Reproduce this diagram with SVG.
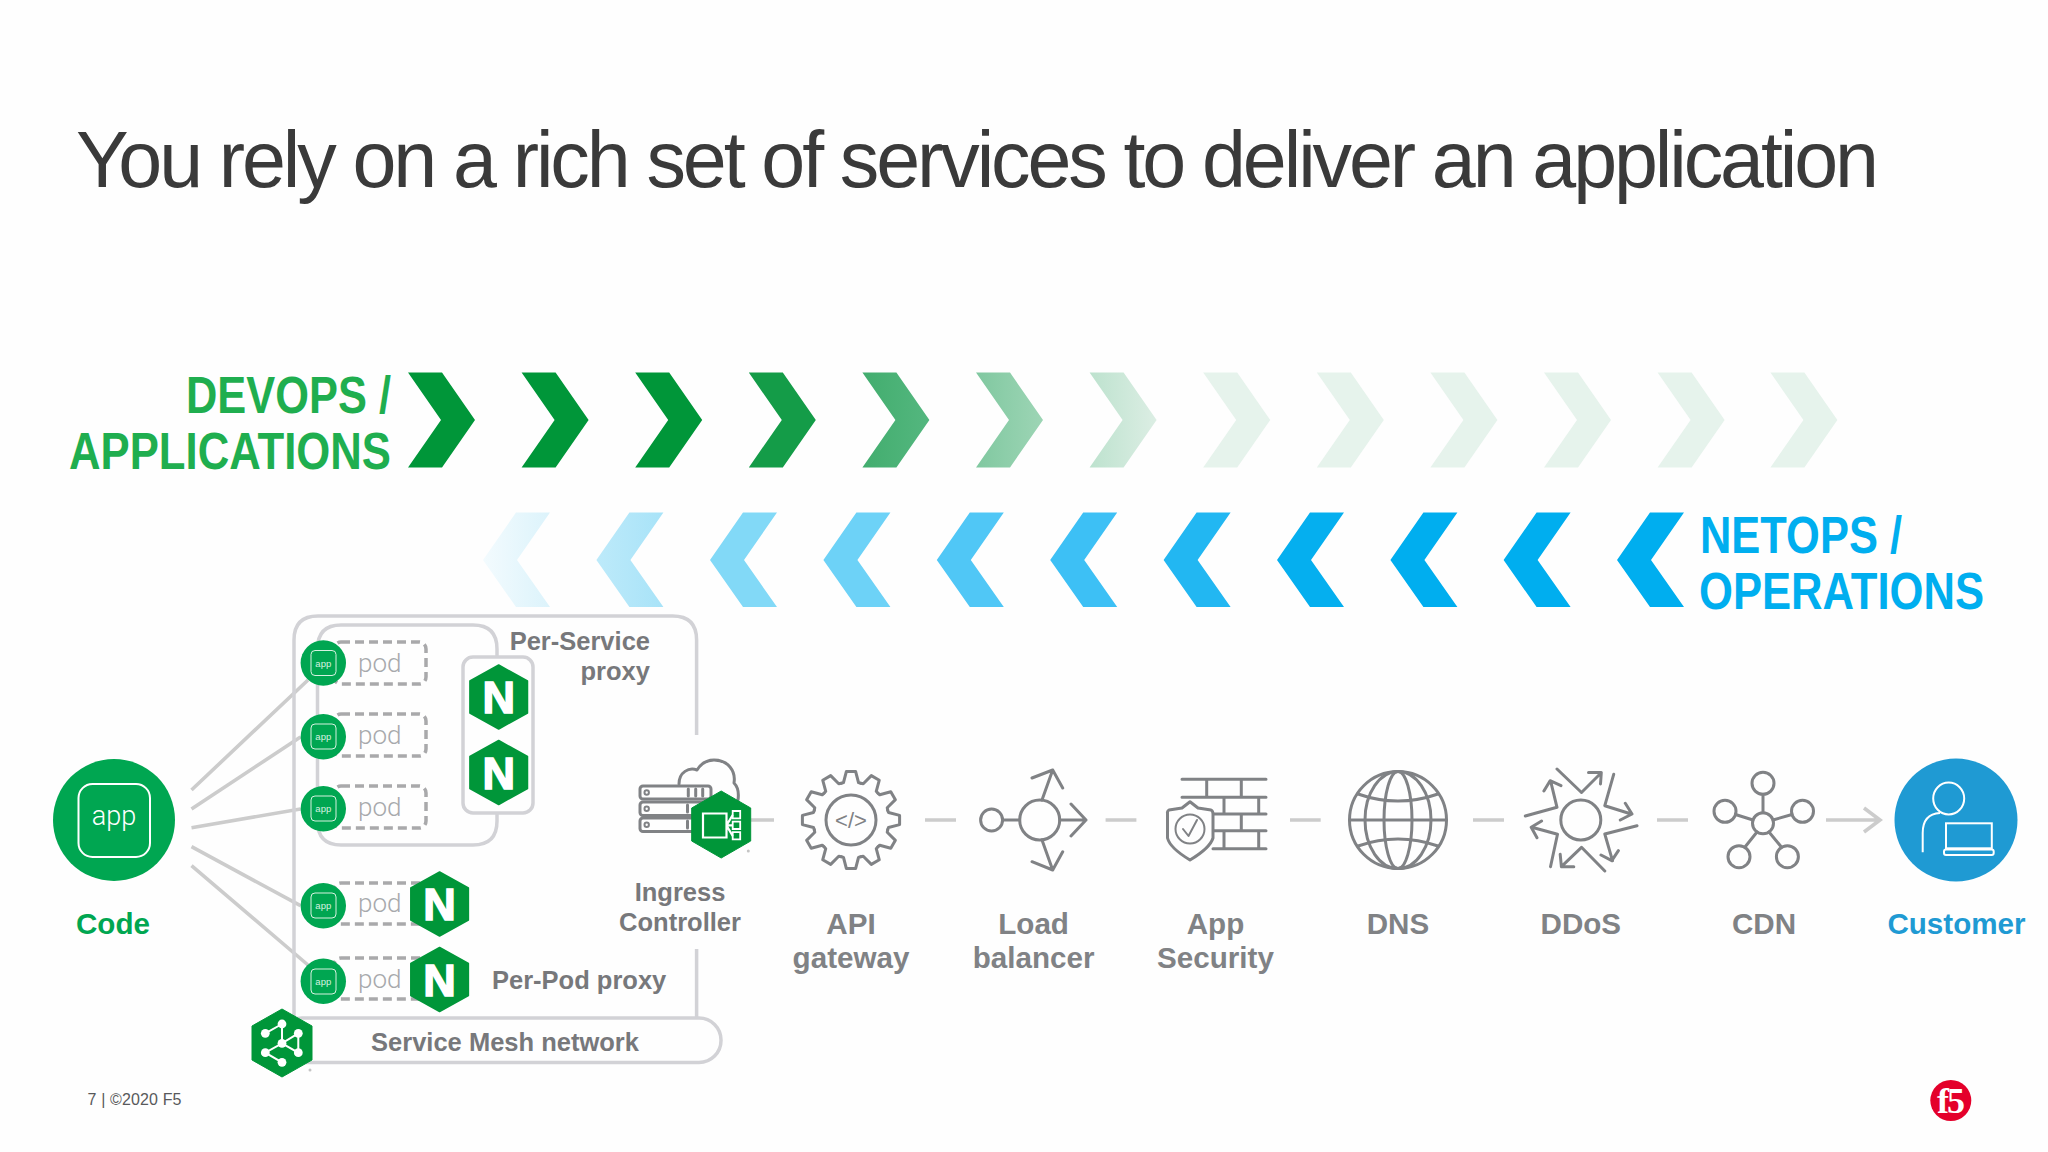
<svg xmlns="http://www.w3.org/2000/svg" width="2048" height="1152" viewBox="0 0 2048 1152">
<style>
text{font-family:"Liberation Sans",Arial,sans-serif}
.lbl{font-size:29.6px;font-weight:700;fill:#808285;text-anchor:middle}
.sm{font-size:25.5px;font-weight:700;fill:#77787b}
.ic{fill:none;stroke:#808285;stroke-width:3;stroke-linecap:round;stroke-linejoin:round}
.box{fill:none;stroke:#d2d2d6;stroke-width:3.5}
.dash{fill:none;stroke:#a9a9ab;stroke-width:3.5;stroke-dasharray:9 5}
.pod{font-family:Roboto,"Liberation Sans",sans-serif;font-weight:300;font-size:26px;fill:#a7a9ac}
.wl{fill:none;stroke:#fff;stroke-width:2}
.conn{fill:none;stroke:#cccccc;stroke-width:3.6}
.nl{font-size:45px;font-weight:700;fill:#fff;stroke:#fff;stroke-width:1.6;text-anchor:middle}
.apps{font-size:9.5px;fill:#d6f1e0;text-anchor:middle}
</style>
<defs>
<polygon id="cr" points="0,0 34,0 67,47.5 34,95 0,95 33,47.5"/>
<polygon id="cl" points="0,47.5 33,0 67,0 34,47.5 67,94.5 33,94.5"/>
<polygon id="hex" points="0,-32 28.8,-16 28.8,16 0,32 -28.8,16 -28.8,-16" fill="#009639" stroke="#009639" stroke-width="1.5" stroke-linejoin="round"/>
<polyline id="tooth" points="-9.8,-36.7 -7.5,-37.5 -4.6,-48.6 4.6,-48.6 7.5,-37.5 9.8,-36.7"/>
<linearGradient id="g5"><stop offset="0" stop-color="#42ad6e"/><stop offset="1" stop-color="#54b77f"/></linearGradient>
<linearGradient id="g6"><stop offset="0" stop-color="#80c8a0"/><stop offset="1" stop-color="#9dd5b5"/></linearGradient>
<linearGradient id="g7"><stop offset="0" stop-color="#bde2ce"/><stop offset="1" stop-color="#dceee4"/></linearGradient>
<linearGradient id="b1"><stop offset="0" stop-color="#f3fbfe"/><stop offset="1" stop-color="#dcf3fb"/></linearGradient>
<linearGradient id="b2"><stop offset="0" stop-color="#bdeafa"/><stop offset="1" stop-color="#a8e3f8"/></linearGradient>
</defs>
<rect width="2048" height="1152" fill="#fefefe"/>
<text x="76" y="187" font-size="79" fill="#3a3a3a" textLength="1803" lengthAdjust="spacing">You rely on a rich set of services to deliver an application</text>

<g id="devops-label" font-size="51" font-weight="700" fill="#1fae4f">
<text x="186" y="413" textLength="205" lengthAdjust="spacingAndGlyphs">DEVOPS /</text>
<text x="69" y="469" textLength="322" lengthAdjust="spacingAndGlyphs">APPLICATIONS</text>
</g>
<g id="devops-chevrons" transform="translate(0,372.5)">
<use href="#cr" x="408" fill="#009639"/>
<use href="#cr" x="521.6" fill="#009639"/>
<use href="#cr" x="635.2" fill="#009639"/>
<use href="#cr" x="748.8" fill="#149c48"/>
<use href="#cr" x="862.4" fill="url(#g5)"/>
<use href="#cr" x="976" fill="url(#g6)"/>
<use href="#cr" x="1089.6" fill="url(#g7)"/>
<use href="#cr" x="1203.2" fill="#e6f3ec"/>
<use href="#cr" x="1316.8" fill="#e6f3ec"/>
<use href="#cr" x="1430.4" fill="#e6f3ec"/>
<use href="#cr" x="1544" fill="#e6f3ec"/>
<use href="#cr" x="1657.6" fill="#e6f3ec"/>
<use href="#cr" x="1770.4" fill="#e6f3ec"/>
</g>
<g id="netops-chevrons" transform="translate(0,512.5)">
<use href="#cl" x="483" fill="url(#b1)"/>
<use href="#cl" x="596.4" fill="url(#b2)"/>
<use href="#cl" x="710" fill="#82d9f7"/>
<use href="#cl" x="823.4" fill="#6dd2f7"/>
<use href="#cl" x="936.8" fill="#50c7f6"/>
<use href="#cl" x="1050.2" fill="#3dc0f5"/>
<use href="#cl" x="1163.6" fill="#22b7f2"/>
<use href="#cl" x="1277" fill="#05afef"/>
<use href="#cl" x="1390.4" fill="#00aeef"/>
<use href="#cl" x="1503.6" fill="#00aeef"/>
<use href="#cl" x="1617" fill="#00aeef"/>
</g>
<g id="netops-label" font-size="51" font-weight="700" fill="#00aeef">
<text x="1700" y="553" textLength="202" lengthAdjust="spacingAndGlyphs">NETOPS /</text>
<text x="1699" y="609" textLength="285" lengthAdjust="spacingAndGlyphs">OPERATIONS</text>
</g>

<g id="connectors">
<path class="conn" d="M191.5 790L308 680M191.5 809L300.5 737M191.5 827.7L300.5 809M191.5 846.7L300.5 905.7M191.5 865.7L308 965"/>
<path class="conn" d="M751 820H774M925 820H956M1105.6 820H1136.4M1290 820H1320.7M1473 820H1504M1657 820H1688M1826 820H1880M1864 808L1880 820L1864 832"/>
</g>

<g id="frames">
<path class="box" d="M696.6 735V640Q696.6 616 672.6 616H318Q294 616 294 640V1017M696.6 949V1017"/>
<path class="box" d="M497 657V649Q497 625 473 625H341Q317.5 625 317.5 649V821Q317.5 845 341 845H473Q497 845 497 821V813"/>
<rect class="box" x="463" y="657" width="70" height="156" rx="10"/>
<rect class="box" x="280" y="1018" width="441" height="44.5" rx="22"/>
</g>

<g id="code">
<circle cx="114" cy="820" r="61" fill="#00a651"/>
<rect class="wl" x="78.5" y="784" width="71.5" height="73" rx="14"/>
<text x="114" y="825" font-size="27" fill="#fff" text-anchor="middle" style="font-family:Roboto,'Liberation Sans',sans-serif;font-weight:300">app</text>
<text class="lbl" x="113" y="934" style="fill:#00a651">Code</text>
</g>

<g id="pod1"><rect class="dash" x="334" y="642" width="92" height="42" rx="7"/><circle cx="323.3" cy="663" r="22.7" fill="#00a651"/><rect x="311" y="650.5" width="25" height="25" rx="4" fill="none" stroke="#d6f1e0"/><text class="apps" x="323.3" y="666.5">app</text><text class="pod" x="358" y="671.5">pod</text></g>
<g id="pod2"><rect class="dash" x="334" y="714" width="92" height="42" rx="7"/><circle cx="323.3" cy="736.7" r="22.7" fill="#00a651"/><rect x="311" y="724" width="25" height="25" rx="4" fill="none" stroke="#d6f1e0"/><text class="apps" x="323.3" y="740">app</text><text class="pod" x="358" y="743.5">pod</text></g>
<g id="pod3"><rect class="dash" x="334" y="786" width="92" height="42" rx="7"/><circle cx="323.3" cy="808.7" r="22.7" fill="#00a651"/><rect x="311" y="796" width="25" height="25" rx="4" fill="none" stroke="#d6f1e0"/><text class="apps" x="323.3" y="812">app</text><text class="pod" x="358" y="815.5">pod</text></g>
<g id="pod4"><rect class="dash" x="334" y="883" width="92" height="41" rx="7"/><circle cx="323.3" cy="905.7" r="22.7" fill="#00a651"/><rect x="311" y="893" width="25" height="25" rx="4" fill="none" stroke="#d6f1e0"/><text class="apps" x="323.3" y="909">app</text><text class="pod" x="358" y="912">pod</text></g>
<g id="pod5"><rect class="dash" x="334" y="958" width="92" height="41" rx="7"/><circle cx="323.3" cy="981.3" r="22.7" fill="#00a651"/><rect x="311" y="969" width="25" height="25" rx="4" fill="none" stroke="#d6f1e0"/><text class="apps" x="323.3" y="984.5">app</text><text class="pod" x="358" y="988">pod</text></g>

<g id="proxy-1"><use href="#hex" x="498.7" y="697"/><text class="nl" x="498.7" y="713">N</text></g>
<g id="proxy-2"><use href="#hex" x="498.7" y="772.5"/><text class="nl" x="498.7" y="788.5">N</text></g>
<g id="proxy-3"><use href="#hex" x="439.6" y="904"/><text class="nl" x="439.6" y="920">N</text></g>
<g id="proxy-4"><use href="#hex" x="439.6" y="979.5"/><text class="nl" x="439.6" y="995.5">N</text></g>

<g id="per-service-label"><text class="sm" x="650" y="650" text-anchor="end">Per-Service</text><text class="sm" x="650" y="680" text-anchor="end">proxy</text></g>
<text id="per-pod-label" class="sm" x="492" y="989">Per-Pod proxy</text>

<g id="service-mesh">
<text class="sm" x="505" y="1051" text-anchor="middle">Service Mesh network</text>
<polygon points="282,1009 312,1026 312,1060 282,1077 252,1060 252,1026" fill="#009639" stroke="#009639" stroke-linejoin="round"/>
<path d="M282 1024L265.3 1033.3M282 1024V1043.3L298.3 1033.3V1052.7L282 1043.3L265.3 1052.7L282 1062.3" fill="none" stroke="#fff" stroke-width="2"/>
<g fill="#fff"><circle cx="282" cy="1024" r="4.4"/><circle cx="265.3" cy="1033.3" r="4.4"/><circle cx="298.3" cy="1033.3" r="4.4"/><circle cx="282" cy="1043.3" r="4.4"/><circle cx="265.3" cy="1052.7" r="4.4"/><circle cx="298.3" cy="1052.7" r="4.4"/><circle cx="282" cy="1062.3" r="4.4"/></g>
<circle cx="310" cy="1070" r="1.5" fill="#c4c4c4"/>
</g>

<g id="ingress">
<path class="ic" d="M679 784C679 772 689 767 697 770C702 762 708 760 714 760C728 760 736 771 734 783C738 787 739 793 738 800"/>
<g class="ic">
<rect x="640" y="786" width="71" height="13" rx="3" fill="#fefefe"/><rect x="640" y="802" width="71" height="13.5" rx="3" fill="#fefefe"/><rect x="640" y="818" width="71" height="13.5" rx="3" fill="#fefefe"/>
<circle cx="646.7" cy="792.5" r="2.2" style="stroke-width:2"/><circle cx="646.7" cy="808.7" r="2.2" style="stroke-width:2"/><circle cx="646.7" cy="824.7" r="2.2" style="stroke-width:2"/>
<path d="M688.3 789V796M695.7 789V796M702.7 789V796M687.5 805V812M687.5 821V828"/>
</g>
<polygon points="721.2,791 750.7,808 750.7,841 721.2,858 691.7,841 691.7,808" fill="#009639" stroke="#009639" stroke-linejoin="round"/>
<path d="M703 813.5H726.5V837.5H703ZM726.5 825.4H732.7M726.5 825.4L732.7 815M726.5 825.4L732.7 836" fill="none" stroke="#fff" stroke-width="2.2"/>
<path d="M732.7 811h7.5v7.3h-7.5zM732.7 821.7h7.5v7.3h-7.5zM732.7 832.2h7.5v7.2h-7.5z" fill="none" stroke="#fff" stroke-width="1.8"/>
<circle cx="748.3" cy="851" r="1.5" fill="#c4c4c4"/>
<text class="sm" x="680" y="900.5" text-anchor="middle">Ingress</text>
<text class="sm" x="680" y="930.5" text-anchor="middle">Controller</text>
</g>

<g id="api-gateway">
<g class="ic" transform="translate(851,820)">
<use href="#tooth"/><use href="#tooth" transform="rotate(30)"/><use href="#tooth" transform="rotate(60)"/><use href="#tooth" transform="rotate(90)"/><use href="#tooth" transform="rotate(120)"/><use href="#tooth" transform="rotate(150)"/><use href="#tooth" transform="rotate(180)"/><use href="#tooth" transform="rotate(210)"/><use href="#tooth" transform="rotate(240)"/><use href="#tooth" transform="rotate(270)"/><use href="#tooth" transform="rotate(300)"/><use href="#tooth" transform="rotate(330)"/>
<circle r="25"/>
</g>
<text x="851" y="828" font-size="22" fill="#808285" text-anchor="middle">&lt;/&gt;</text>
<text class="lbl" x="851" y="934">API</text><text class="lbl" x="851" y="968">gateway</text>
</g>

<g id="load-balancer">
<g class="ic"><circle cx="991.6" cy="820" r="11"/><circle cx="1039.7" cy="820" r="20"/>
<path d="M1002.6 820H1019.7M1059.7 820H1086M1071 804L1086 820L1071 836M1042 800L1052.7 770M1032 778L1052.7 770L1062.7 788M1042 840L1052.7 870M1032 861.7L1052.7 870L1062.7 851.7"/></g>
<text class="lbl" x="1033.6" y="934">Load</text><text class="lbl" x="1033.6" y="968">balancer</text>
</g>

<g id="app-security">
<g class="ic">
<path d="M1182 779.3H1266M1182 797.3H1266M1213 814H1266M1213 830.7H1266M1213 848.7H1266M1206.7 779.3V797.3M1241.3 779.3V797.3M1224 797.3V814M1258.7 797.3V814M1241.3 814V830.7M1224 830.7V848.7M1258.7 830.7V848.7"/>
<path d="M1190 801.7L1198 808L1211 810Q1213 811 1213 814V838Q1210 848 1190 860Q1170 848 1167.5 838V814Q1167 811 1169 810L1182 808Z" fill="#fefefe"/>
<circle cx="1190" cy="829" r="14.5" style="stroke-width:2"/>
<path d="M1183 829L1188.5 836L1197 820" style="stroke-width:2"/>
</g>
<text class="lbl" x="1215.5" y="934">App</text><text class="lbl" x="1215.5" y="968">Security</text>
</g>

<g id="dns">
<g class="ic"><circle cx="1398" cy="820" r="48.5"/><ellipse cx="1398" cy="820" rx="14" ry="48.5"/><ellipse cx="1398" cy="820" rx="33" ry="48.5"/>
<path d="M1349.5 820H1446.5M1358 794Q1398 808 1438 794M1358 846Q1398 832 1438 846"/></g>
<text class="lbl" x="1398" y="934">DNS</text>
</g>

<g id="ddos">
<g class="ic"><circle cx="1580.8" cy="820" r="20"/>
<path d="M1557 769L1581.5 792.5L1601 773M1588.5 772.5H1601.3L1600.5 784M1613.7 774.3L1604.8 805.7L1631.2 814M1625.3 803.3L1632 814L1620.3 820M1637 825.7L1604.8 834L1612.5 860.7M1601 855L1611.8 860.7L1618.4 850.7M1604.8 871L1581.5 847.3L1561.4 866.7M1560.2 854.3L1561.4 866.7H1573.8M1550.5 866.7L1557.5 834.3L1531.9 827.3M1541.6 821L1531.2 827.3L1537 837.7M1525.3 816L1557 807.3L1550.5 780.7M1543.9 791L1550.1 780.7L1561 785.7"/></g>
<text class="lbl" x="1580.8" y="934">DDoS</text>
</g>

<g id="cdn">
<g class="ic"><circle cx="1763" cy="823.3" r="10.5"/><circle cx="1763" cy="783.3" r="11"/><circle cx="1725" cy="811.3" r="11"/><circle cx="1802.5" cy="811.3" r="11"/><circle cx="1739" cy="856.7" r="11"/><circle cx="1787.4" cy="856.7" r="11"/>
<path d="M1763 794.3V812.8M1735.5 814.5L1753 820M1792 814.5L1773 820M1745 847L1757 832M1781.4 847L1769 832"/></g>
<text class="lbl" x="1764" y="934">CDN</text>
</g>

<g id="customer">
<circle cx="1956" cy="820" r="61.5" fill="#1f9ad3"/>
<ellipse class="wl" cx="1948.7" cy="798.5" rx="15.5" ry="16"/>
<path class="wl" d="M1922.7 852.3V833Q1922.7 814 1940 813"/>
<rect class="wl" x="1946" y="823.3" width="45.8" height="25"/>
<rect class="wl" x="1944" y="849.5" width="49.7" height="5.5" rx="2"/>
<text class="lbl" x="1956.5" y="934" style="fill:#1f9ad3">Customer</text>
</g>

<text id="footer" x="87.5" y="1105" font-size="16" fill="#58595b" textLength="94" lengthAdjust="spacing">7 | ©2020 F5</text>
<g id="f5-logo"><circle cx="1950.8" cy="1100.5" r="20.5" fill="#e4002b"/><text x="1950" y="1113" font-size="36" font-weight="700" fill="#fff" text-anchor="middle" style="font-family:'Liberation Serif',serif" letter-spacing="-2">f5</text></g>
</svg>
